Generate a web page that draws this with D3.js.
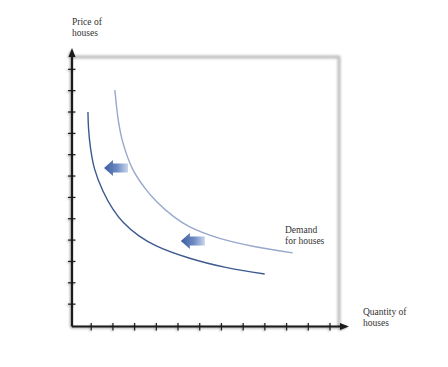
<!DOCTYPE html>
<html>
<head>
<meta charset="utf-8">
<script src="https://cdn.jsdelivr.net/npm/d3@7"></script>
<style>
  body { margin: 0; background: #fff; }
  text { font-family: "Liberation Serif", "DejaVu Serif", serif; font-size: 9.5px; fill: #333; }
</style>
</head>
<body>
<script>
// tick positions on both axes (no labels in the original)
var xTicks = [1, 2, 3, 4, 5, 6, 7, 8, 9, 10, 11, 12];
var yTicks = [1, 2, 3, 4, 5, 6, 7, 8, 9, 10, 11, 12];

// demand curves (quantity, price)
var demandOld = [[2.09, 11.03], [2.25, 9.6], [2.45, 8.6], [2.92, 7.3], [3.5, 6.4], [4.02, 5.8],
                 [4.8, 5.1], [5.54, 4.62], [6.92, 4.08], [8.5, 3.7], [10.28, 3.40]];
var demandNew = [[0.85, 10.0], [0.88, 9.2], [0.97, 8.3], [1.15, 7.35], [1.54, 6.3], [2.0, 5.45],
                 [2.46, 4.85], [3.2, 4.2], [4.02, 3.72], [5.54, 3.15], [7.2, 2.72], [8.99, 2.41]];

// shift arrows: tip position (quantity, price)
var shiftArrows = [[1.59, 7.38], [5.13, 3.96]];

var width = 448, height = 367;

var x = d3.scaleLinear().domain([0, 12]).range([69.5, 330]);
var y = d3.scaleLinear().domain([0, 12]).range([325.5, 69.3]);

var x0 = 72, y0 = 326.5;

var svg = d3.select("body").append("svg")
    .attr("width", width)
    .attr("height", height);

var defs = svg.append("defs");

// soft shadow behind frame and axes
var shadow = defs.append("filter").attr("id", "shadow")
    .attr("x", "-10%").attr("y", "-10%").attr("width", "120%").attr("height", "120%");
shadow.append("feGaussianBlur").attr("in", "SourceAlpha").attr("stdDeviation", 1.2).attr("result", "b");
shadow.append("feOffset").attr("in", "b").attr("dx", -1).attr("dy", 1).attr("result", "o");
shadow.append("feComponentTransfer").attr("in", "o").attr("result", "s")
  .append("feFuncA").attr("type", "linear").attr("slope", 0.35);
var merge = shadow.append("feMerge");
merge.append("feMergeNode").attr("in", "s");
merge.append("feMergeNode").attr("in", "SourceGraphic");

var frameBlur = defs.append("filter").attr("id", "soft");
frameBlur.append("feGaussianBlur").attr("stdDeviation", 0.8);

// gradient for the shift arrows (dark at the head)
var grad = defs.append("linearGradient").attr("id", "arrowGrad")
    .attr("x1", "0%").attr("x2", "100%").attr("y1", "0%").attr("y2", "0%");
grad.append("stop").attr("offset", "0%").attr("stop-color", "#3a5c9c");
grad.append("stop").attr("offset", "55%").attr("stop-color", "#6f8cc4");
grad.append("stop").attr("offset", "100%").attr("stop-color", "#c9d5ec");

// grey frame on top and right
svg.append("path")
    .attr("d", "M" + x0 + "," + 57 + "H339V" + y0)
    .attr("fill", "none")
    .attr("stroke", "#c4c4c4")
    .attr("stroke-width", 3.5)
    .attr("stroke-linejoin", "round")
    .attr("filter", "url(#soft)");

// axes
var axes = svg.append("g").attr("filter", "url(#shadow)");

axes.append("line")
    .attr("x1", x0).attr("y1", y0).attr("x2", x0).attr("y2", 55)
    .attr("stroke", "#1a1a1a").attr("stroke-width", 2.2);
axes.append("line")
    .attr("x1", x0).attr("y1", y0).attr("x2", 343).attr("y2", y0)
    .attr("stroke", "#1a1a1a").attr("stroke-width", 2.2);

// arrow heads of the axes
axes.append("path")
    .attr("d", "M" + x0 + ",48L" + (x0 - 3.5) + ",57L" + (x0 + 3.5) + ",57Z")
    .attr("fill", "#1a1a1a");
axes.append("path")
    .attr("d", "M349," + y0 + "L340," + (y0 - 3.5) + "L340," + (y0 + 3.5) + "Z")
    .attr("fill", "#1a1a1a");

axes.selectAll(".xtick")
    .data(xTicks)
  .enter().append("line")
    .attr("class", "xtick")
    .attr("x1", function(d) { return x(d); })
    .attr("x2", function(d) { return x(d); })
    .attr("y1", y0 - 3.5)
    .attr("y2", y0 + 4)
    .attr("stroke", "#1a1a1a").attr("stroke-width", 1.2);

axes.selectAll(".ytick")
    .data(yTicks)
  .enter().append("line")
    .attr("class", "ytick")
    .attr("y1", function(d) { return y(d); })
    .attr("y2", function(d) { return y(d); })
    .attr("x1", x0 - 4)
    .attr("x2", x0 + 3.5)
    .attr("stroke", "#1a1a1a").attr("stroke-width", 1.2);

// demand curves
var line = d3.line()
    .x(function(d) { return x(d[0]); })
    .y(function(d) { return y(d[1]); })
    .curve(d3.curveCatmullRom.alpha(0.5));

svg.append("path")
    .datum(demandOld)
    .attr("d", line)
    .attr("fill", "none")
    .attr("stroke", "#97a8cb")
    .attr("stroke-width", 1.4);

svg.append("path")
    .datum(demandNew)
    .attr("d", line)
    .attr("fill", "none")
    .attr("stroke", "#3d5a8f")
    .attr("stroke-width", 1.4);

// block arrows pointing left
var arrowLen = 24, headLen = 9, headH = 8, shaftH = 4.5;
svg.selectAll(".shift")
    .data(shiftArrows)
  .enter().append("path")
    .attr("class", "shift")
    .attr("transform", function(d) { return "translate(" + x(d[0]) + "," + y(d[1]) + ")"; })
    .attr("d", "M0,0L" + headLen + "," + (-headH) + "V" + (-shaftH) + "H" + arrowLen +
               "V" + shaftH + "H" + headLen + "V" + headH + "Z")
    .attr("fill", "url(#arrowGrad)");

// labels
var labels = [
  {x: 72, y: 25, lines: ["Price of", "houses"]},
  {x: 285, y: 233, lines: ["Demand", "for houses"]},
  {x: 363, y: 314.5, lines: ["Quantity of", "houses"]}
];

labels.forEach(function(l) {
  var t = svg.append("text").attr("x", l.x).attr("y", l.y);
  l.lines.forEach(function(s, i) {
    t.append("tspan").attr("x", l.x).attr("dy", i === 0 ? 0 : 11).text(s);
  });
});
</script>
</body>
</html>
